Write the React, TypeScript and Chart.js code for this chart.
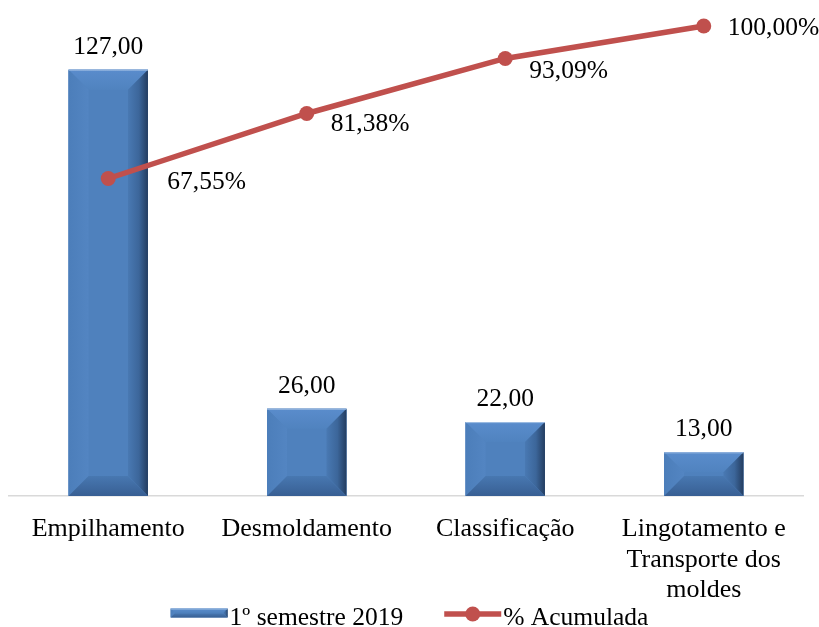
import { useEffect, useRef } from 'react';
import { Chart, registerables } from 'chart.js';

Chart.register(...registerables);

const categories: (string | string[])[] = [
  'Empilhamento',
  'Desmoldamento',
  'Classificação',
  ['Lingotamento e', 'Transporte dos', 'moldes'],
];
const semestre2019 = [127, 26, 22, 13];
const acumulada = [67.55, 81.38, 93.09, 100.0];

const seriesBarName = '1º semestre 2019';
const seriesLineName = '% Acumulada';

const FONT = "'Liberation Serif', 'Times New Roman', serif";
const FONT_SIZE = 25.5;
const AXIS_FONT_SIZE = 26;
const BAR_BLUE = '#4F81BD';
const LINE_RED = '#C0504D';

// label placement beside each cumulative point: [dx to text start, dy to baseline]
const lineLabelOffsets: [number, number][] = [
  [59, 10],
  [24, 17],
  [24, 20],
  [24, 9],
];

const fmt = (v: number, d = 2) => v.toFixed(d).replace('.', ',');

function fillPoly(ctx: CanvasRenderingContext2D, pts: number[][], style: string | CanvasGradient) {
  ctx.beginPath();
  ctx.moveTo(pts[0][0], pts[0][1]);
  for (let i = 1; i < pts.length; i++) ctx.lineTo(pts[i][0], pts[i][1]);
  ctx.closePath();
  ctx.fillStyle = style;
  ctx.fill();
}

// bevelled "angle" bar: four sloped faces around a flat centre face
function drawBevel(ctx: CanvasRenderingContext2D, x0: number, y0: number, x1: number, y1: number, size: number) {
  const w = x1 - x0;
  const h = y1 - y0;
  const b = Math.min(size, w / 2, h / 2);
  ctx.save();
  ctx.fillStyle = BAR_BLUE;
  ctx.fillRect(x0, y0, w, h);

  let g = ctx.createLinearGradient(0, y0, 0, y0 + b);
  g.addColorStop(0, '#5A8CCC');
  g.addColorStop(1, '#5083BF');
  fillPoly(ctx, [[x0, y0], [x1, y0], [x1 - b, y0 + b], [x0 + b, y0 + b]], g);

  g = ctx.createLinearGradient(x0, 0, x0 + b, 0);
  g.addColorStop(0, '#4C7EBA');
  g.addColorStop(1, '#5385C2');
  fillPoly(ctx, [[x0, y0], [x0 + b, y0 + b], [x0 + b, y1 - b], [x0, y1]], g);

  g = ctx.createLinearGradient(x1 - b, 0, x1, 0);
  g.addColorStop(0, '#4979B3');
  g.addColorStop(0.55, '#3C669A');
  g.addColorStop(1, '#243D60');
  fillPoly(ctx, [[x1, y0], [x1, y1], [x1 - b, y1 - b], [x1 - b, y0 + b]], g);

  g = ctx.createLinearGradient(0, y1 - b, 0, y1);
  g.addColorStop(0, '#4878B1');
  g.addColorStop(1, '#385F93');
  fillPoly(ctx, [[x0, y1], [x1, y1], [x1 - b, y1 - b], [x0 + b, y1 - b]], g);

  ctx.strokeStyle = 'rgba(170,196,230,0.9)';
  ctx.lineWidth = 1;
  ctx.beginPath();
  ctx.moveTo(x0, y0 + 0.5);
  ctx.lineTo(x1, y0 + 0.5);
  ctx.stroke();
  ctx.restore();
}

const bevelPlugin = {
  id: 'bevelBars',
  afterDatasetDraw(chart: any, args: any) {
    if (args.index !== 0) return;
    const ctx = chart.ctx as CanvasRenderingContext2D;
    chart.getDatasetMeta(0).data.forEach((el: any) => {
      const { x, y, base, width } = el.getProps(['x', 'y', 'base', 'width'], true);
      drawBevel(ctx, x - width / 2, Math.min(y, base), x + width / 2, Math.max(y, base), 20);
    });
  },
};

const valueLabelsPlugin = {
  id: 'valueLabels',
  afterDatasetsDraw(chart: any) {
    const ctx = chart.ctx as CanvasRenderingContext2D;
    ctx.save();
    ctx.font = `${FONT_SIZE}px ${FONT}`;
    ctx.fillStyle = '#000';
    ctx.textBaseline = 'alphabetic';

    ctx.textAlign = 'center';
    chart.getDatasetMeta(0).data.forEach((el: any, i: number) => {
      ctx.fillText(fmt(semestre2019[i]), el.x, el.y - 16);
    });

    ctx.textAlign = 'left';
    chart.getDatasetMeta(1).data.forEach((el: any, i: number) => {
      const [dx, dy] = lineLabelOffsets[i];
      ctx.fillText(fmt(acumulada[i]) + '%', el.x + dx, el.y + dy);
    });
    ctx.restore();
  },
};

const legendPlugin = {
  id: 'bottomLegend',
  afterDraw(chart: any) {
    const ctx = chart.ctx as CanvasRenderingContext2D;
    ctx.save();
    ctx.font = `${FONT_SIZE}px ${FONT}`;
    const markW = 57;
    const t1 = ctx.measureText(seriesBarName).width;
    const t2 = ctx.measureText(seriesLineName).width;
    const gapText = 2;
    const gapItems = 41;
    const total = markW + gapText + t1 + gapItems + markW + gapText + t2;
    let x = chart.width / 2 - total / 2;
    const cy = 613;

    drawBevel(ctx, x, cy - 4.5, x + markW, cy + 4.5, 4);
    x += markW + gapText;
    ctx.fillStyle = '#000';
    ctx.textAlign = 'left';
    ctx.textBaseline = 'alphabetic';
    ctx.fillText(seriesBarName, x, 625);
    x += t1 + gapItems;

    ctx.strokeStyle = LINE_RED;
    ctx.lineWidth = 5.5;
    ctx.beginPath();
    ctx.moveTo(x, cy + 1);
    ctx.lineTo(x + markW, cy + 1);
    ctx.stroke();
    ctx.fillStyle = LINE_RED;
    ctx.beginPath();
    ctx.arc(x + markW / 2, cy + 1, 7.5, 0, Math.PI * 2);
    ctx.fill();
    x += markW + gapText;
    ctx.fillStyle = '#000';
    ctx.fillText(seriesLineName, x, 625);
    ctx.restore();
  },
};

export default function App() {
  const canvasRef = useRef<HTMLCanvasElement | null>(null);

  useEffect(() => {
    if (!canvasRef.current) return;
    Chart.defaults.font.family = FONT;
    const chart = new Chart(canvasRef.current, {
      type: 'bar',
      data: {
        labels: categories as any,
        datasets: [
          {
            type: 'bar',
            label: seriesBarName,
            data: semestre2019,
            backgroundColor: BAR_BLUE,
            borderWidth: 0,
            yAxisID: 'y',
            order: 1,
            barPercentage: 0.4,
            categoryPercentage: 1,
          },
          {
            type: 'line',
            label: seriesLineName,
            data: acumulada,
            borderColor: LINE_RED,
            backgroundColor: LINE_RED,
            borderWidth: 5.5,
            pointRadius: 7.5,
            pointBackgroundColor: LINE_RED,
            pointBorderWidth: 0,
            tension: 0,
            yAxisID: 'y1',
            order: 0,
            clip: false,
          } as any,
        ],
      },
      options: {
        responsive: false,
        animation: false,
        events: [],
        layout: { padding: { top: 26, left: 9, right: 16, bottom: 3 } },
        plugins: {
          legend: { display: false },
          tooltip: { enabled: false },
        },
        scales: {
          x: {
            grid: { display: false, drawTicks: false },
            border: { display: true, color: '#D9D9D9', width: 1.5 },
            ticks: {
              color: '#000',
              font: { family: FONT, size: AXIS_FONT_SIZE, lineHeight: 1.18 },
              padding: 18,
              maxRotation: 0,
              minRotation: 0,
              autoSkip: false,
            },
          },
          y: { display: false, min: 0, max: 140 },
          y1: { display: false, min: 0, max: 100 },
        },
      },
      plugins: [bevelPlugin, valueLabelsPlugin, legendPlugin],
    });
    return () => chart.destroy();
  }, []);

  return (
    <div style={{ position: 'fixed', left: 0, top: 0, width: 819, height: 627, background: '#fff' }}>
      <canvas ref={canvasRef} width={819} height={627} style={{ display: 'block' }} />
    </div>
  );
}
